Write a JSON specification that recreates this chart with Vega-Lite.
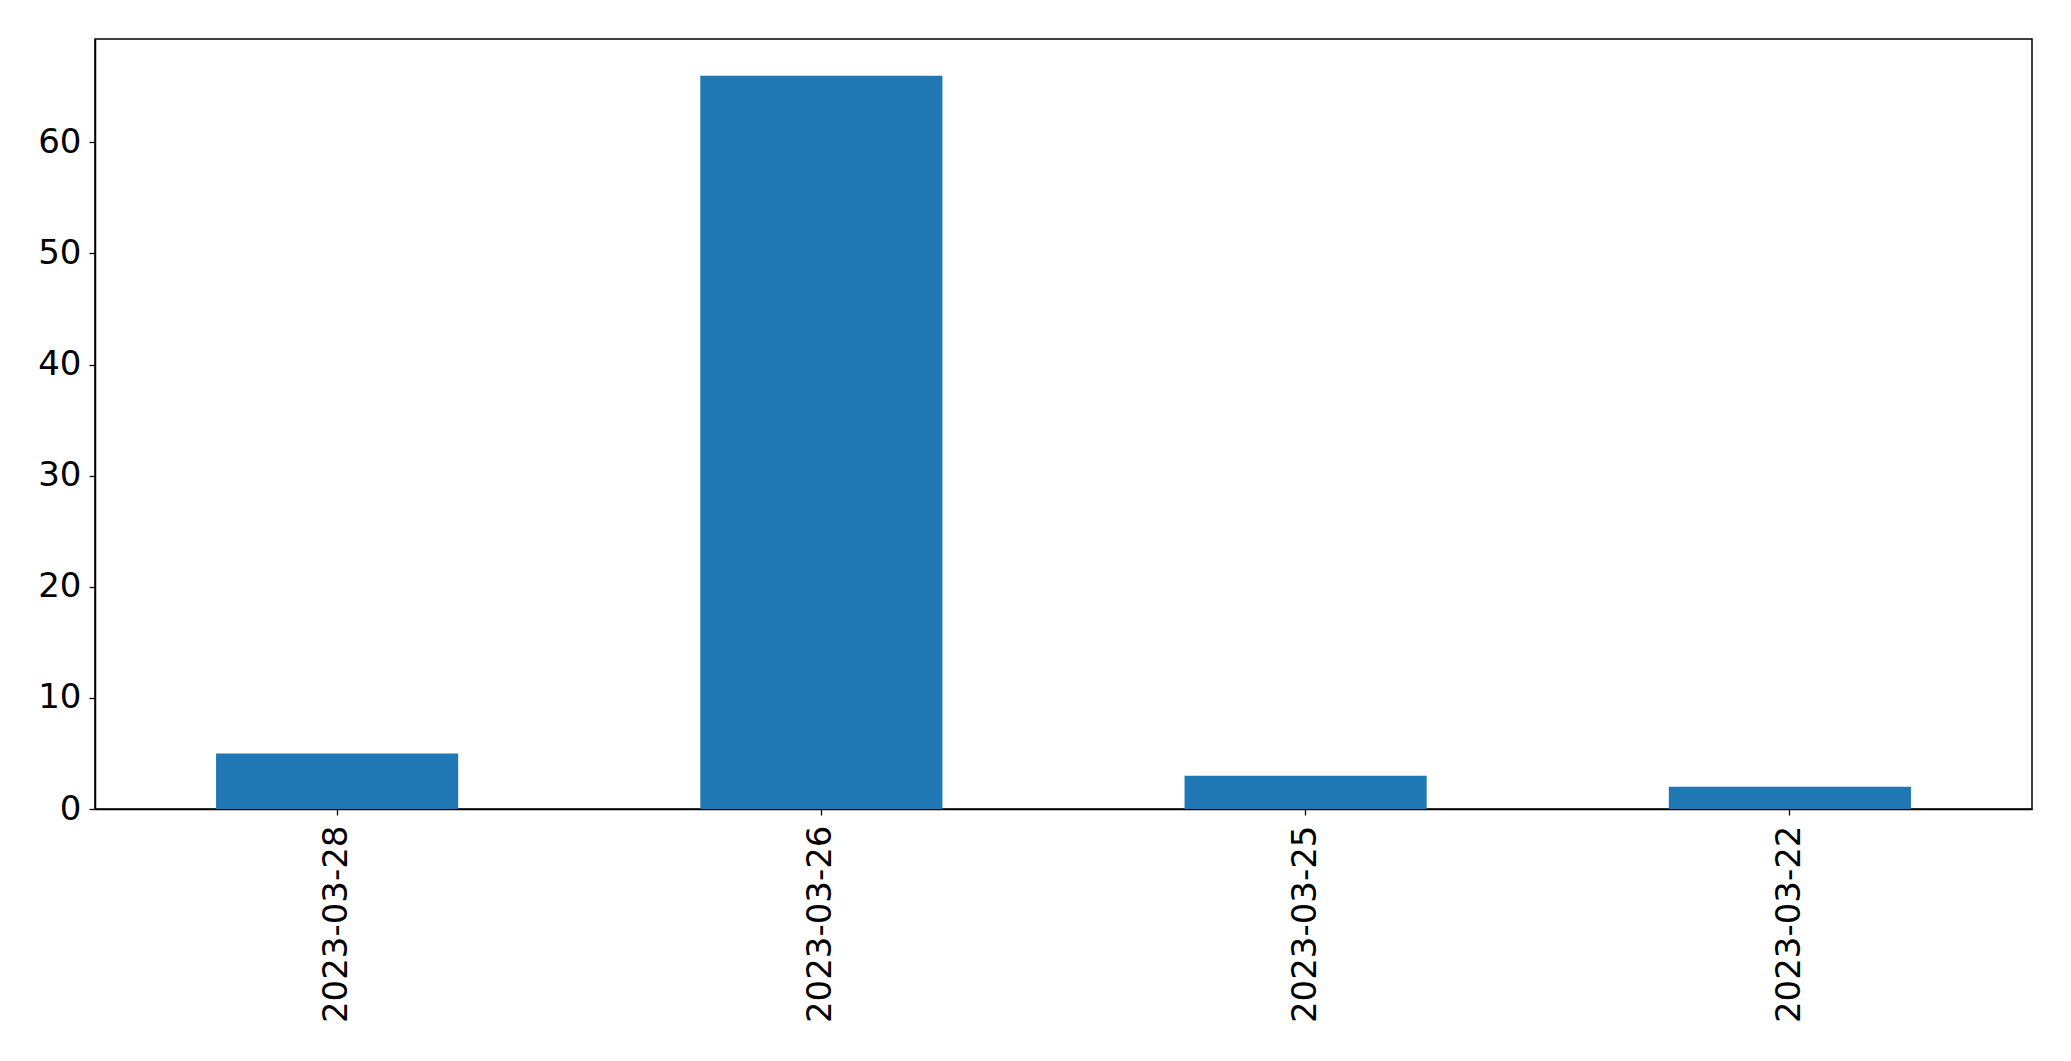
{
  "$schema": "https://vega.github.io/schema/vega-lite/v6.json",
  "autosize": {"type": "none"},
  "width": 1937,
  "height": 770,
  "padding": {"left": 95, "top": 39, "right": 39, "bottom": 252},
  "background": "white",
  "config": {
    "view": {"stroke": "black", "strokeWidth": 1.5},
    "font": "DejaVu Sans"
  },
  "data": {
    "values": [
      {"date": "2023-03-28", "count": 5},
      {"date": "2023-03-26", "count": 66},
      {"date": "2023-03-25", "count": 3},
      {"date": "2023-03-22", "count": 2}
    ]
  },
  "mark": {"type": "bar", "color": "#1f77b4"},
  "encoding": {
    "x": {
      "field": "date",
      "type": "nominal",
      "sort": null,
      "scale": {"paddingInner": 0.5, "paddingOuter": 0.25},
      "axis": {
        "title": null,
        "labelAngle": -90,
        "labelFontSize": 34,
        "labelLimit": 0,
        "labelColor": "black",
        "labelPadding": 10,
        "tickSize": 6,
        "tickColor": "black",
        "tickWidth": 1.3,
        "domainColor": "black",
        "domainWidth": 1.5,
        "grid": false
      }
    },
    "y": {
      "field": "count",
      "type": "quantitative",
      "scale": {"domain": [0, 69.3], "nice": false, "zero": true},
      "axis": {
        "title": null,
        "values": [0, 10, 20, 30, 40, 50, 60],
        "labelFontSize": 34,
        "labelColor": "black",
        "labelPadding": 8,
        "tickSize": 6,
        "tickColor": "black",
        "tickWidth": 1.3,
        "domainColor": "black",
        "domainWidth": 1.5,
        "grid": false
      }
    }
  }
}
